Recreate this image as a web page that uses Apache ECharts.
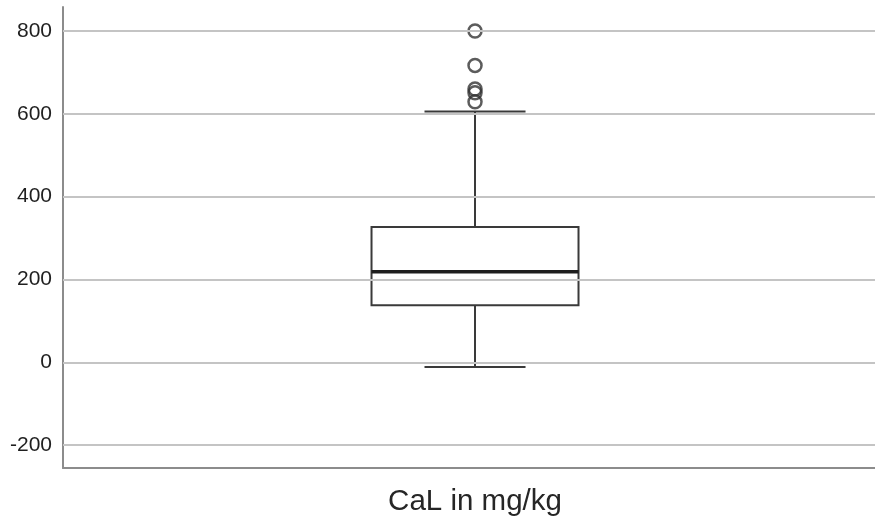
<!DOCTYPE html>
<html>
<head>
<meta charset="utf-8">
<style>
  html, body { margin: 0; padding: 0; background: #ffffff; }
  #chart { width: 875px; height: 517px; }
</style>
<script src="https://cdn.jsdelivr.net/npm/echarts@6/dist/echarts.min.js"></script>
</head>
<body>
<div id="chart"></div>
<script>
// Box plot of CaL concentration (mg/kg)
const categories = ['CaL in mg/kg'];
// [lower whisker, Q1, median, Q3, upper whisker]
const boxStats = [[-11, 138, 219, 327, 606]];
// points beyond the upper whisker
const outliers = [800, 717, 660, 651, 629];
// reference lines on the value axis
const yTicks = [-200, 0, 200, 400, 600, 800];
const yMin = -255;
const yMax = 858;

// horizontal position of each group; the plot spans a little more to the right
const xMin = -1;
const xMax = 0.9708;
const boxHalf = 0.2512;   // half box width in x units
const capHalf = 0.1226;   // half whisker-cap width in x units

const boxData = boxStats.map((s, i) => [i].concat(s));
const outlierData = outliers.map(v => [0, v]);

const chart = echarts.init(document.getElementById('chart'));

chart.setOption({
  backgroundColor: '#ffffff',
  animation: false,
  grid: { left: 63, right: 0, top: 7, bottom: 49, containLabel: false, outerBoundsMode: 'none' },
  xAxis: {
    type: 'value',
    min: xMin,
    max: xMax,
    interval: 1,
    axisLine: { show: true, onZero: false, lineStyle: { color: '#8c8c8c', width: 2 } },
    axisTick: { show: false },
    splitLine: { show: false },
    axisLabel: {
      showMinLabel: false,
      showMaxLabel: false,
      fontFamily: 'Liberation Sans, Arial, sans-serif',
      fontSize: 29.5,
      color: '#262626',
      margin: 19,
      formatter: v => (Math.abs(v) < 1e-9 ? categories[0] : '')
    }
  },
  yAxis: {
    type: 'value',
    min: yMin,
    max: yMax,
    axisLine: { show: true, onZero: false, lineStyle: { color: '#8c8c8c', width: 2 } },
    axisTick: { show: false },
    splitLine: { show: false },
    axisLabel: {
      showMinLabel: false,
      showMaxLabel: false,
      fontFamily: 'Liberation Sans, Arial, sans-serif',
      fontSize: 21,
      color: '#1f1f1f',
      margin: 11,
      formatter: v => (yTicks.indexOf(v) >= 0 ? String(v) : '')
    }
  },
  series: [
    {
      type: 'custom',
      name: 'grid',
      silent: true,
      data: [],
      markLine: {
        silent: true,
        symbol: 'none',
        label: { show: false },
        lineStyle: { color: '#c4c4c4', width: 2, type: 'solid' },
        data: yTicks.map(v => ({ yAxis: v }))
      },
      renderItem: () => ({ type: 'group', children: [] })
    },
    {
      type: 'custom',
      name: 'box',
      data: boxData,
      encode: { x: 0, y: [1, 2, 3, 4, 5] },
      z: 3,
      renderItem: function (params, api) {
        const x = api.value(0);
        const low = api.value(1), q1 = api.value(2), med = api.value(3),
              q3 = api.value(4), high = api.value(5);
        const pLow = api.coord([x, low]);
        const pQ1 = api.coord([x, q1]);
        const pMed = api.coord([x, med]);
        const pQ3 = api.coord([x, q3]);
        const pHigh = api.coord([x, high]);
        const cx = pMed[0];
        const bl = api.coord([x - boxHalf, med])[0];
        const br = api.coord([x + boxHalf, med])[0];
        const cl = api.coord([x - capHalf, med])[0];
        const cr = api.coord([x + capHalf, med])[0];
        const line = { stroke: '#3a3a3a', lineWidth: 2, fill: null };
        return {
          type: 'group',
          children: [
            { type: 'line', shape: { x1: cx, y1: pQ3[1], x2: cx, y2: pHigh[1] }, style: line },
            { type: 'line', shape: { x1: cx, y1: pQ1[1], x2: cx, y2: pLow[1] }, style: line },
            { type: 'line', shape: { x1: cl, y1: pHigh[1], x2: cr, y2: pHigh[1] }, style: line },
            { type: 'line', shape: { x1: cl, y1: pLow[1], x2: cr, y2: pLow[1] }, style: line },
            { type: 'rect', shape: { x: bl, y: pQ3[1], width: br - bl, height: pQ1[1] - pQ3[1] },
              style: { stroke: '#3a3a3a', lineWidth: 2, fill: 'rgba(255,255,255,0)' } },
            { type: 'line', shape: { x1: bl, y1: pMed[1], x2: br, y2: pMed[1] },
              style: { stroke: '#1e1e1e', lineWidth: 3.5 } }
          ]
        };
      }
    },
    {
      type: 'scatter',
      name: 'outliers',
      data: outlierData,
      symbol: 'circle',
      symbolSize: 13,
      z: 4,
      itemStyle: { color: 'rgba(255,255,255,0)', borderColor: '#333333', borderWidth: 2.5 }
    }
  ]
});
</script>
</body>
</html>
